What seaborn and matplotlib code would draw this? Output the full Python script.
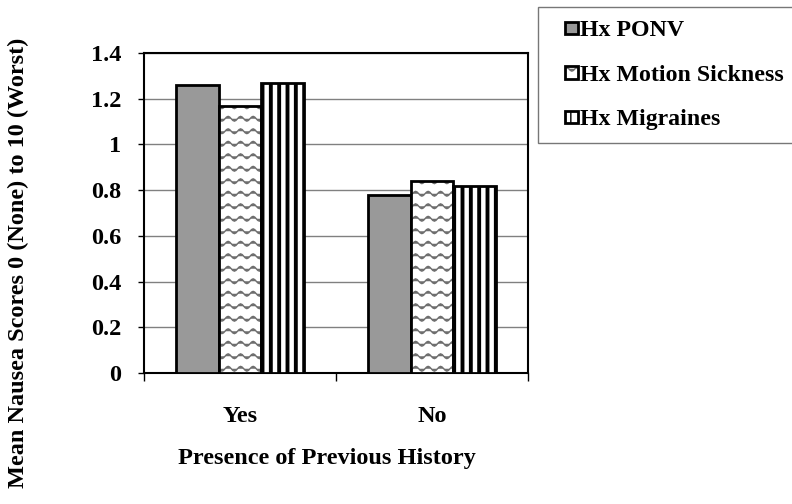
import warnings
import numpy as np
import pandas as pd
import matplotlib
matplotlib.use('Agg')
import matplotlib.pyplot as plt
import matplotlib.patches as mpatches
from matplotlib import hatch as mhatch
from matplotlib.legend_handler import HandlerPatch
from matplotlib.path import Path
from matplotlib.colors import to_rgba
import seaborn as sns

warnings.filterwarnings('ignore')

history = ['Yes', 'No']
groups = ['Hx PONV', 'Hx Motion Sickness', 'Hx Migraines']
ponv = [1.26, 0.78]
motion = [1.17, 0.84]
migraines = [1.27, 0.82]

df = pd.DataFrame({
    'history': history * 3,
    'group': [groups[0]] * 2 + [groups[1]] * 2 + [groups[2]] * 2,
    'score': ponv + motion + migraines,
})


# wavy hatch ('~'), like the excel pattern fill
class WaveHatch(mhatch.HatchPatternBase):
    def __init__(self, hatch, density):
        self.num_lines = int(hatch.count('~') * density * 0.7)
        self.periods = self.num_lines
        self.steps = 8
        self.num_vertices = self.num_lines * (self.steps * self.periods + 1)

    def set_vertices_and_codes(self, vertices, codes):
        n = self.steps * self.periods + 1
        xs = np.linspace(0.0, 1.0, n)
        wave = 0.024 * np.sin(2 * np.pi * self.periods * xs)
        for i in range(self.num_lines):
            y0 = (i + 0.5) / self.num_lines
            vertices[i * n:(i + 1) * n, 0] = xs
            vertices[i * n:(i + 1) * n, 1] = y0 + wave
            codes[i * n] = Path.MOVETO
            codes[i * n + 1:(i + 1) * n] = Path.LINETO


mhatch._hatch_types.append(WaveHatch)

sns.set_style('white')
plt.rcParams['font.family'] = ['Liberation Serif', 'DejaVu Serif']
plt.rcParams['font.weight'] = 'bold'
for k in ['text.color', 'axes.labelcolor', 'xtick.color', 'ytick.color']:
    plt.rcParams[k] = 'black'

fig = plt.figure(figsize=(7.92, 5.04), dpi=100)
ax = fig.add_axes([144 / 792, 1 - 373 / 504, 384 / 792, 320 / 504])

fills = ['#999999', 'white', 'white']
hatches = [None, '~~', '||']
hatch_colors = ['black', '#6e6e6e', 'black']
hatch_lws = [1.0, 1.0, 2.8]

sns.barplot(data=df, x='history', y='score', hue='group', hue_order=groups,
            order=history, palette=fills, edgecolor='black', linewidth=2,
            width=0.667, saturation=1, legend=False, ax=ax, zorder=3)


def style_patch(p, i):
    p.set_facecolor(fills[i])
    p.set_edgecolor('black')
    if hatches[i]:
        p.set_hatch(hatches[i])
        if hasattr(p, 'set_hatch_linewidth'):
            p.set_hatch_linewidth(hatch_lws[i])
        else:
            p._hatch_linewidth = hatch_lws[i]
        if hasattr(p, 'set_hatchcolor'):
            p.set_hatchcolor(hatch_colors[i])
        else:
            p._hatch_color = to_rgba(hatch_colors[i])


for i, cont in enumerate(ax.containers):
    for p in cont:
        style_patch(p, i)

ax.set_ylim(0, 1.4)
ax.set_xlim(-0.5, 1.5)
ax.set_yticks(np.arange(0, 1.41, 0.2))
ax.set_yticklabels(['0', '0.2', '0.4', '0.6', '0.8', '1', '1.2', '1.4'])
ax.yaxis.grid(True, color='#808080', linewidth=1, zorder=0)
ax.set_axisbelow(True)
for s in ax.spines.values():
    s.set_visible(True)
    s.set_color('black')
    s.set_linewidth(1.5)

# ticks: y at left, x at category boundaries
ax.tick_params(axis='y', direction='out', length=4, width=1, left=True,
               labelsize=17.5, pad=12.5)
ax.set_xticks([-0.5, 0.5, 1.5], minor=False)
ax.set_xticklabels(['', '', ''])
ax.tick_params(axis='x', which='major', direction='out', length=6, width=1,
               bottom=True)
ax.set_xticks([0, 1], minor=True)
ax.set_xticklabels(history, minor=True)
ax.tick_params(axis='x', which='minor', length=0, labelsize=17.5, pad=23.5)
for lbl in ax.get_yticklabels() + ax.get_xticklabels(minor=True):
    lbl.set_fontweight('bold')

ax.set_xlabel('Presence of Previous History', fontsize=17.5, fontweight='bold')
ax.xaxis.set_label_coords(0.477, -0.266)
ax.xaxis.label.set_va('center')
ax.set_ylabel('Mean Nausea Scores 0 (None) to 10 (Worst)', fontsize=17.5,
              fontweight='bold')
ax.yaxis.set_label_coords(-0.328, 0.344)
ax.yaxis.label.set_va('center')

handles = []
for i, g in enumerate(groups):
    h = mpatches.Patch(facecolor=fills[i], edgecolor='black', linewidth=2,
                       label=g)
    style_patch(h, i)
    handles.append(h)


def small_square(legend, orig_handle, xdescent, ydescent, width, height, fontsize):
    s = 9.0
    return mpatches.Rectangle((-xdescent + width - s, -ydescent + (height - s) / 2),
                              s, s)


leg = fig.legend(handles=handles, loc='upper left',
                 bbox_to_anchor=(538 / 792, 1 - 7 / 504),
                 prop={'family': 'Liberation Serif', 'weight': 'bold', 'size': 17.2},
                 handler_map={mpatches.Patch: HandlerPatch(patch_func=small_square)},
                 handlelength=1.15, handleheight=0.7, handletextpad=0.1,
                 labelspacing=0.96, borderpad=0.52, borderaxespad=0,
                 fancybox=False, frameon=True)
leg.get_frame().set_edgecolor('#555555')
leg.get_frame().set_linewidth(1)

fig.savefig('out.png', dpi=100)
